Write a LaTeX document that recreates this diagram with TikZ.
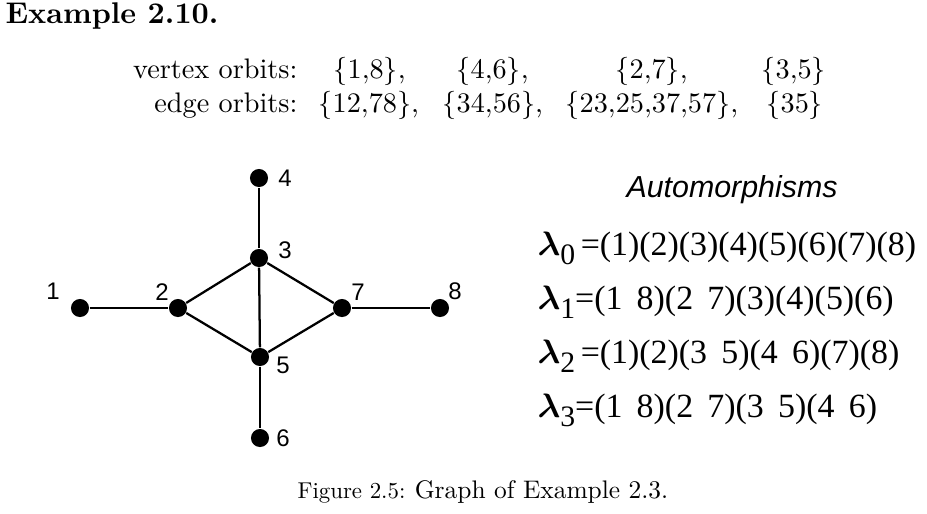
\documentclass[tikz,border=0pt]{standalone}
\usepackage{fontspec}
\newfontfamily\timesfont{Liberation Serif}
\newfontfamily\arialfont{Liberation Sans}
\usetikzlibrary{positioning}

% lambda with a lowered index
\newcommand{\lamsub}[1]{{\boldmath$\lambda$}\raisebox{-0.6ex}{\fontsize{10.5}{10.5}\selectfont #1}}
\newcommand{\gap}{\hspace{0.42em}}

\begin{document}
\begin{tikzpicture}[
            x=0.354pt, y=-0.354pt,
            % Stili
            vertex/.style={circle, fill=black, inner sep=0pt, minimum size=6.4pt},
            vlabel/.style={inner sep=0pt, font=\arialfont\fontsize{8.5}{9}\selectfont},
            edge/.style={line width=0.8pt},
            orbit/.style={anchor=base west, inner sep=0pt, font=\fontsize{10}{12}\selectfont},
            perm/.style={anchor=base west, inner sep=0pt, font=\timesfont\fontsize{12}{14}\selectfont}
        ]
        \useasboundingbox (0,0) rectangle (927,513);

        % Titolo e orbite
        \node (title) [anchor=base west, inner sep=0pt, font=\bfseries\fontsize{10.6}{12}\selectfont] at (5,23) {Example 2.10.};

        \node (vorb) [anchor=base east, inner sep=0pt, font=\fontsize{10}{12}\selectfont] at (298,78) {vertex orbits:};
        \node (v18) [orbit] at (333,78) {$\{1{,}8\}$,};
        \node (v46) [orbit] at (456,78) {$\{4{,}6\}$,};
        \node (v27) [orbit] at (615,78) {$\{2{,}7\}$,};
        \node (v35) [orbit] at (761,78) {$\{3{,}5\}$};

        \node (eorb) [anchor=base east, inner sep=0pt, font=\fontsize{10}{12}\selectfont] at (298,112) {edge orbits:};
        \node (e1) [orbit] at (318,112) {$\{12{,}78\}$,};
        \node (e2) [orbit] at (442,112) {$\{34{,}56\}$,};
        \node (e3) [orbit] at (565,112) {$\{23{,}25{,}37{,}57\}$,};
        \node (e4) [orbit] at (766,112) {$\{35\}$};

        % Vertici
        \node (n1) [vertex] at (80,308) {};
        \node (n2) [vertex] at (178,308) {};
        \node (n3) [vertex] at (259,258) {};
        \node (n4) [vertex] at (259,178) {};
        \node (n5) [vertex] at (260,357) {};
        \node (n6) [vertex] at (260,438) {};
        \node (n7) [vertex] at (342,308) {};
        \node (n8) [vertex] at (440,308) {};

        % Etichette
        \node (l1) [vlabel] at (53,291) {1};
        \node (l2) [vlabel] at (162,292) {2};
        \node (l3) [vlabel] at (285,250) {3};
        \node (l4) [vlabel] at (285,178) {4};
        \node (l5) [vlabel] at (283,365) {5};
        \node (l6) [vlabel] at (283,438) {6};
        \node (l7) [vlabel] at (358,292) {7};
        \node (l8) [vlabel] at (455,291) {8};

        % Lati
        \draw [edge] (n1) -- (n2);
        \draw [edge] (n2) -- (n3);
        \draw [edge] (n2) -- (n5);
        \draw [edge] (n3) -- (n4);
        \draw [edge] (n3) -- (n5);
        \draw [edge] (n3) -- (n7);
        \draw [edge] (n5) -- (n7);
        \draw [edge] (n5) -- (n6);
        \draw [edge] (n7) -- (n8);

        % Automorfismi
        \node (auto) [anchor=base west, inner sep=0pt, font=\arialfont\itshape\fontsize{10.75}{12}\selectfont] at (626,197) {Automorphisms};
        \node (lam0) [perm] at (537,255) {\lamsub{0}\,=(1)(2)(3)(4)(5)(6)(7)(8)};
        \node (lam1) [perm] at (537,309) {\lamsub{1}=(1\gap8)(2\gap7)(3)(4)(5)(6)};
        \node (lam2) [perm] at (537,363) {\lamsub{2}\,=(1)(2)(3\gap5)(4\gap6)(7)(8)};
        \node (lam3) [perm] at (537,417) {\lamsub{3}=(1\gap8)(2\gap7)(3\gap5)(4\gap6)};

        % Didascalia
        \node (cap) [anchor=base west, inner sep=0pt, font=\fontsize{10}{12}\selectfont] at (297,498) {\scalebox{0.81}{Figure 2.5:}\ \scalebox{0.9}{Graph of Example 2.3.}};

    \end{tikzpicture}
\end{document}
